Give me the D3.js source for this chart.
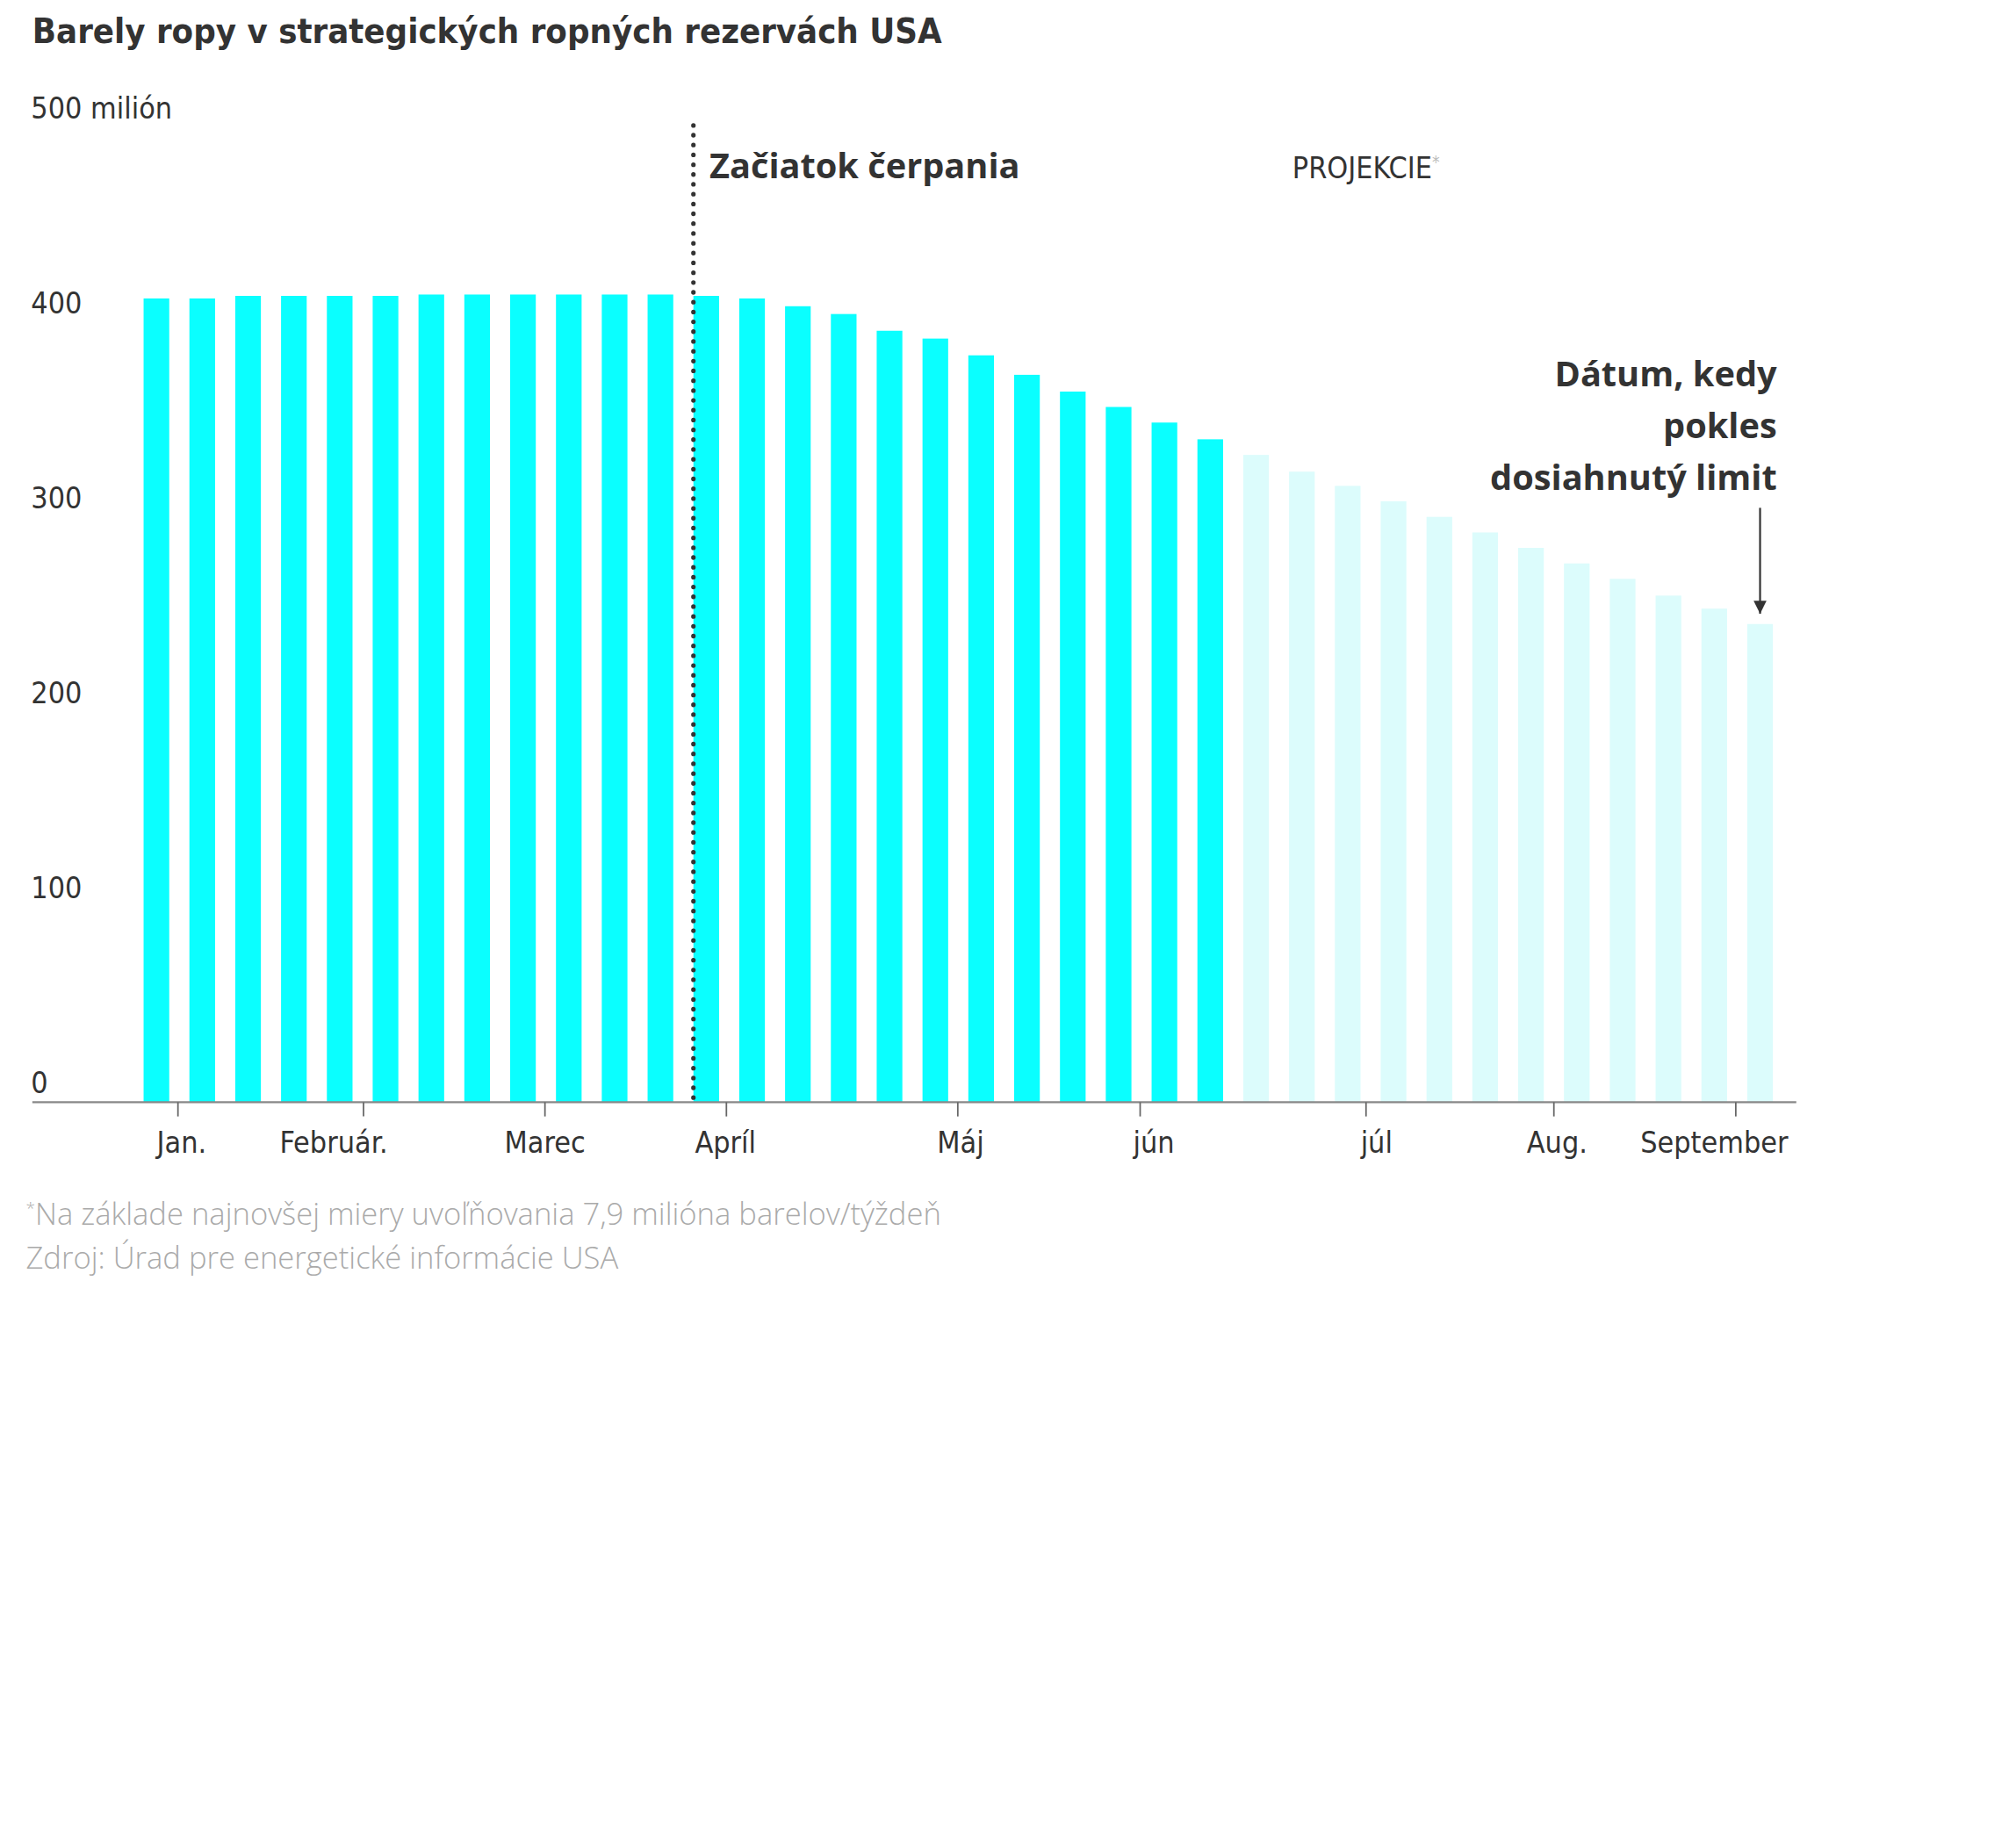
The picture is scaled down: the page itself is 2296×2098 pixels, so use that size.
<!DOCTYPE html>
<html><head><meta charset="utf-8">
<script src="https://cdn.jsdelivr.net/npm/d3@7"></script>
<style>body{margin:0;background:#fff}</style>
</head><body>
<script>
// weekly stock, million barrels
const actual = [412.5, 412.5, 413.8, 413.8, 413.8, 413.8, 414.5, 414.5, 414.5, 414.5, 414.5, 414.5,
    413.8, 412.5, 408.5, 404.5, 395.9, 391.9, 383.3, 373.3, 364.7, 356.8, 348.8, 340.2];
const projected = [332.2, 323.6, 316.3, 308.4, 300.4, 292.4, 284.5, 276.5, 268.6, 260.0, 253.3, 245.4];
const months = ['Jan.', 'Február.', 'Marec', 'Apríl', 'Máj', 'jún', 'júl', 'Aug.', 'September'];
const monthTickWeek = [0.47, 4.52, 8.48, 12.44, 17.49, 21.47, 26.4, 30.5, 34.47];
const monthLabelWeek = [0.55, 3.87, 8.48, 12.42, 17.55, 21.77, 26.63, 30.57, 34.0];
const yTicks = [0, 100, 200, 300, 400, 500];
const drawStartWeek = 12;

const data = actual.map((v, i) => ({ i, v, proj: false }))
    .concat(projected.map((v, j) => ({ i: actual.length + j, v, proj: true })));

const W = 1560, H = 1425.5;
const svg = d3.select('body').append('svg')
    .attr('width', 2296).attr('height', 2098)
    .attr('viewBox', `0 0 ${W} ${H}`);

const cond = "'Liberation Sans Narrow', 'DejaVu Sans Condensed', sans-serif";

const x = d3.scaleBand().domain(d3.range(data.length)).range([95.5, 1387.5]).padding(0.44);
const xw = d3.scaleLinear().domain([0, data.length - 1]).range([x(0) + x.bandwidth() / 2, x(data.length - 1) + x.bandwidth() / 2]);
const y = d3.scaleLinear().domain([0, 500]).range([853, 99]);

svg.append('text').attr('x', 25).attr('y', 33)
    .attr('fill', '#333').style('font-family', "'DejaVu Sans Condensed', sans-serif")
    .style('font-weight', 'bold').style('font-size', '27px')
    .text('Barely ropy v strategických ropných rezervách USA');

svg.selectAll('.ylab').data(yTicks).join('text')
    .attr('x', 24).attr('y', (d) => y(d) - 7)
    .attr('fill', '#333').style('font-family', cond).style('font-size', '23px')
    .text((d) => (d === 500 ? '500  milión' : d));

svg.selectAll('.bar').data(data).join('rect')
    .attr('x', (d) => x(d.i)).attr('width', x.bandwidth())
    .attr('y', (d) => y(d.v)).attr('height', (d) => y(0) - y(d.v))
    .attr('fill', (d) => (d.proj ? '#dcfcfc' : '#0affff'));

svg.append('line').attr('x1', 25).attr('x2', 1390).attr('y1', y(0)).attr('y2', y(0))
    .attr('stroke', '#888').attr('stroke-width', 1.5);

svg.selectAll('.tick').data(monthTickWeek).join('line')
    .attr('x1', (d) => xw(d)).attr('x2', (d) => xw(d))
    .attr('y1', y(0)).attr('y2', y(0) + 11).attr('stroke', '#666').attr('stroke-width', 1.2);

svg.selectAll('.mlab').data(months).join('text')
    .attr('x', (d, i) => xw(monthLabelWeek[i])).attr('y', 892)
    .attr('text-anchor', 'middle').attr('fill', '#333')
    .style('font-family', cond).style('font-size', '23px').text((d) => d);

const dx = x(drawStartWeek);
svg.append('line').attr('x1', dx).attr('x2', dx).attr('y1', 97).attr('y2', y(0))
    .attr('stroke', '#333').attr('stroke-width', 3.5)
    .attr('stroke-dasharray', '0.1 7.5').attr('stroke-linecap', 'round');

svg.append('text').attr('x', 549).attr('y', 138)
    .attr('fill', '#333').style('font-family', "'Open Sans', sans-serif")
    .style('font-weight', 'bold').style('font-size', '27px').text('Začiatok čerpania');

const proj = svg.append('text').attr('x', 1000).attr('y', 138)
    .attr('fill', '#333').style('font-family', cond).style('font-size', '23px');
proj.append('tspan').text('PROJEKCIE');
proj.append('tspan').attr('dy', -8).attr('fill', '#bbb').style('font-size', '13px').text('*');

const ann = svg.append('text').attr('text-anchor', 'end')
    .attr('fill', '#333').style('font-family', "'Open Sans', sans-serif")
    .style('font-weight', 'bold').style('font-size', '27px');
['Dátum, kedy', 'pokles', 'dosiahnutý limit'].forEach((t, i) => {
    ann.append('tspan').attr('x', 1375).attr('y', 299 + i * 40).text(t);
});

const lastX = x(data.length - 1) + x.bandwidth() / 2;
svg.append('defs').append('marker').attr('id', 'ah')
    .attr('viewBox', '0 0 10 10').attr('refX', 10).attr('refY', 5)
    .attr('markerWidth', 10).attr('markerHeight', 10).attr('markerUnits', 'userSpaceOnUse')
    .attr('orient', 'auto').append('path').attr('d', 'M0,0L10,5L0,10Z').attr('fill', '#333');
svg.append('line').attr('x1', lastX).attr('x2', lastX).attr('y1', 393).attr('y2', 475)
    .attr('stroke', '#333').attr('stroke-width', 1.5).attr('marker-end', 'url(#ah)');

const foot = svg.append('g').attr('fill', '#aaa')
    .style('font-family', "'Open Sans', sans-serif").style('font-weight', 300).style('font-size', '23.5px');
const f1 = foot.append('text').attr('x', 20).attr('y', 948);
f1.append('tspan').attr('dy', -8).style('font-size', '13px').text('*');
f1.append('tspan').attr('dy', 8).text('Na základe najnovšej miery uvoľňovania 7,9 milióna barelov/týždeň');
foot.append('text').attr('x', 20).attr('y', 982).text('Zdroj: Úrad pre energetické informácie USA');
</script>
</body></html>
